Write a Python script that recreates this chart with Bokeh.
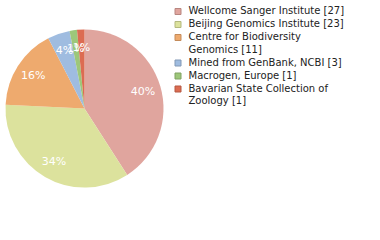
import numpy as np
from bokeh.plotting import figure
from bokeh.models import ColumnDataSource
from bokeh.core.properties import value
from bokeh.embed import file_html
from bokeh.resources import INLINE

# ---- data ----
categories = ["Wellcome Sanger Institute", "Beijing Genomics Institute",
              "Centre for Biodiversity Genomics", "Mined from GenBank, NCBI",
              "Macrogen, Europe", "Bavarian State Collection of Zoology"]
counts = [27, 23, 11, 3, 1, 1]
legend_lines = [["Wellcome Sanger Institute [27]"],
                ["Beijing Genomics Institute [23]"],
                ["Centre for Biodiversity", "Genomics [11]"],
                ["Mined from GenBank, NCBI [3]"],
                ["Macrogen, Europe [1]"],
                ["Bavarian State Collection of", "Zoology [1]"]]
colors = ["#e0a59e", "#dce29d", "#eeaa6e", "#9fbce0", "#9dc77a", "#dc6c52"]
edge_colors = ["#b88680", "#b4b97f", "#c48b5a", "#8299b6", "#80a263", "#b45843"]

W, H = 380, 240
cx, cy, R = 84, H - 108, 79

vals = np.array(counts, dtype=float)
frac = vals / vals.sum()
cum = np.concatenate([[0], np.cumsum(frac)])
start = np.pi / 2 - cum[1:] * 2 * np.pi
end = np.pi / 2 - cum[:-1] * 2 * np.pi
mid = (start + end) / 2

p = figure(width=W, height=H, x_range=(0, W), y_range=(0, H),
           output_backend="svg", toolbar_location=None, min_border=0,
           background_fill_color="white", border_fill_color="white")
p.axis.visible = False
p.grid.visible = False
p.outline_line_color = None

src = ColumnDataSource(dict(start=start, end=end, color=colors))
p.wedge(x=cx, y=cy, radius=R, start_angle="start", end_angle="end",
        fill_color="color", line_color=None, source=src)

rl = 61
lab = ColumnDataSource(dict(
    x=cx + rl * np.cos(mid), y=cy + rl * np.sin(mid),
    t=[f"{int(f * 100)}%" for f in frac]))
p.text(x="x", y="y", text="t", source=lab, text_color="white",
       text_font=value("DejaVu Sans"), text_font_size="11px",
       text_align="center", text_baseline="middle")

# legend
lx_box, lx_text = 177.5, 188
ys_box, ys_txt, txt = [], [], []
y = 10
for lines in legend_lines:
    ys_box.append(H - (y + 1))
    for k, ln in enumerate(lines):
        ys_txt.append(H - (y + k * 12.5))
        txt.append(ln)
    y += len(lines) * 12.5 + 0.5
p.rect(x=[lx_box] * len(ys_box), y=ys_box, width=6, height=6,
       fill_color=colors, line_color=edge_colors, line_width=1)
p.text(x=[lx_text] * len(txt), y=ys_txt, text=txt, text_color="#222222",
       text_font=value("DejaVu Sans"), text_font_size="10px",
       text_align="left", text_baseline="middle")

open("out.html", "w").write(file_html(p, INLINE))
